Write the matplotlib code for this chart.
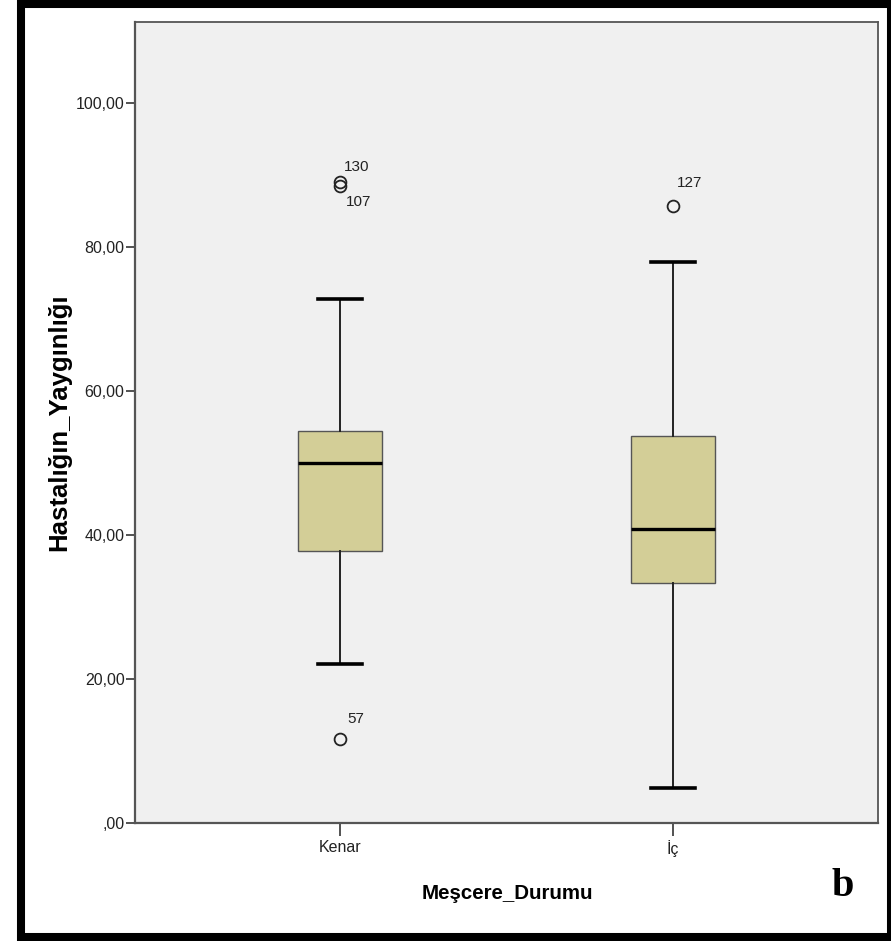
import matplotlib.pyplot as plt
from matplotlib.patches import Rectangle
from matplotlib.ticker import FuncFormatter

# SPSS-style boxplot: disease prevalence by stand position
groups = ["Kenar", "İç"]
q1 = [37.8, 33.3]
medians = [50.0, 40.8]
q3 = [54.4, 53.75]
whis_low = [22.1, 4.9]
whis_high = [72.8, 77.9]
outlier_values = [[89.0, 88.4, 11.7], [85.7]]
outlier_ids = [["130", "107", "57"], ["127"]]
# label offsets (points) for each outlier id
label_offsets = [[(3, 11), (4, -11), (5, 14)], [(3, 16)]]

y_ticks = [0, 20, 40, 60, 80, 100]

box_color = "#D3CE97"
plot_bg = "#F0F0F0"
font = ["Liberation Sans", "DejaVu Sans"]

W, H = 891, 941
fig = plt.figure(figsize=(W / 100, H / 100), dpi=100)
fig.patch.set_facecolor("white")

ax = fig.add_axes([135 / W, (H - 823) / H, 743 / W, (823 - 22) / H])
ax.set_facecolor(plot_bg)

stats = []
for i, g in enumerate(groups):
    stats.append(dict(
        label=g, med=medians[i], q1=q1[i], q3=q3[i],
        whislo=whis_low[i], whishi=whis_high[i],
        fliers=outlier_values[i],
    ))

ax.bxp(
    stats, positions=[1, 2], widths=0.252, capwidths=0.13,
    patch_artist=True,
    boxprops=dict(facecolor=box_color, edgecolor="#555555", linewidth=1.0),
    medianprops=dict(color="black", linewidth=2.4),
    whiskerprops=dict(color="#222222", linewidth=1.4),
    capprops=dict(color="black", linewidth=2.6),
    flierprops=dict(marker="o", markerfacecolor="none", markeredgecolor="#222222",
                    markersize=8.5, markeredgewidth=1.3),
)

for i in range(len(groups)):
    for v, lab, off in zip(outlier_values[i], outlier_ids[i], label_offsets[i]):
        ax.annotate(lab, (i + 1, v), xytext=off, textcoords="offset points",
                    fontsize=11, family=font, color="#222222",
                    ha="left", va="center")

ax.set_xlim(0.385, 2.615)
ax.set_ylim(0, 111.2)
ax.set_yticks(y_ticks)
ax.yaxis.set_major_formatter(FuncFormatter(
    lambda v, p: ("%.2f" % v).replace(".", ",").lstrip("0") if v == 0
    else ("%.2f" % v).replace(".", ",")))

for s in ax.spines.values():
    s.set_color("#555555")
    s.set_linewidth(1.3)
ax.spines["left"].set_linewidth(1.6)
ax.spines["bottom"].set_linewidth(1.6)

ax.tick_params(axis="y", length=6.5, width=1.3, color="#444444", pad=1,
               labelsize=11.5, labelcolor="#222222")
ax.tick_params(axis="x", length=9, width=1.3, color="#444444", pad=3,
               labelsize=11.5, labelcolor="#222222")
for t in ax.get_xticklabels() + ax.get_yticklabels():
    t.set_family(font)

ax.set_ylabel("Hastalığın_Yaygınlığı", fontsize=18.5, fontweight="bold",
              family=font)
ax.yaxis.set_label_coords(-0.086, 0.5)
ax.set_xlabel("Meşcere_Durumu", fontsize=14.8, fontweight="bold",
              family=font)
ax.xaxis.set_label_coords(0.501, -0.076)

fig.text(843 / W, (H - 886) / H, "b", fontsize=29, fontweight="bold",
         family=["Liberation Serif", "DejaVu Serif"], ha="center", va="center")

# black frame around the figure
fig.add_artist(Rectangle((21 / W, (H - 936.5) / H), (891 - 21) / W, (936.5 - 4) / H,
                         transform=fig.transFigure, fill=False,
                         edgecolor="black", linewidth=5.8))

fig.savefig("out.png", dpi=100)
